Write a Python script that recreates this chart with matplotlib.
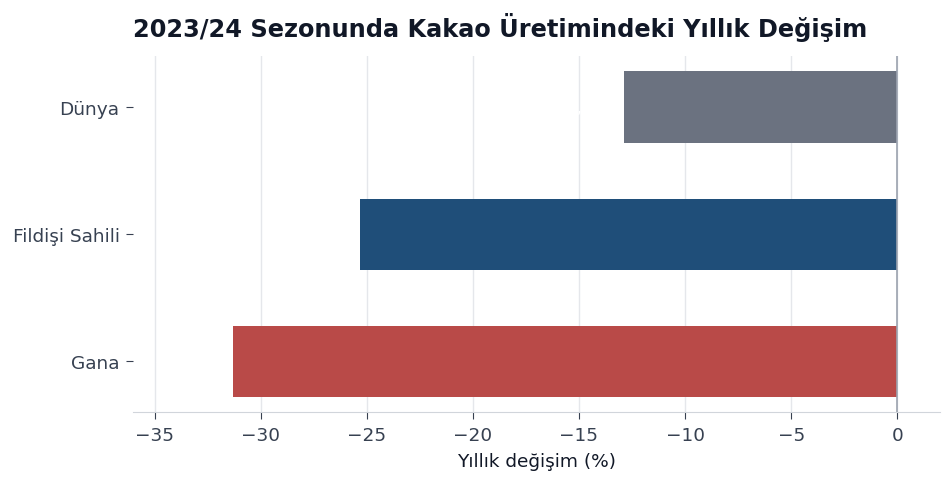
import numpy as np
import matplotlib.pyplot as plt

regions = ['Gana', 'Fildişi Sahili', 'Dünya']
changes = [-31.3, -25.3, -12.9]
colors = ['#b94a48', '#1f4e79', '#6b7280']

fig, ax = plt.subplots(figsize=(9.53, 4.85), dpi=100)
fig.subplots_adjust(left=0.14, right=0.986, top=0.882, bottom=0.148)

ypos = np.arange(len(regions))
bars = ax.barh(ypos, changes, height=0.56, color=colors, zorder=2)

# white value labels (barely visible, as in the original)
for rect, v in zip(bars, changes):
    ax.text(v - 0.8, rect.get_y() + rect.get_height() / 2,
            ('%.1f%%' % v).replace('.', ',').replace('-', '\u2212'),
            ha='right', va='center', color='white', fontsize=11, zorder=3)

ax.axvline(0, color='#9ca3af', lw=1.2, zorder=3)

ax.set_xlim(-36, 2)
ax.set_ylim(-0.4, 2.4)
ax.set_yticks(ypos)
ax.set_yticklabels(regions)
ax.set_xticks(np.arange(-35, 1, 5))

ax.grid(axis='x', color='#e5e7eb', lw=1, zorder=0)
ax.set_axisbelow(True)
for s in ['left', 'top', 'right']:
    ax.spines[s].set_visible(False)
ax.spines['bottom'].set_color('#d1d5db')
ax.tick_params(axis='both', colors='#374151', labelsize=13.3)
ax.tick_params(axis='y', length=5, pad=5, color='#374151')
ax.tick_params(axis='x', length=5, pad=5, color='#374151')

ax.set_xlabel('Yıllık değişim (%)', fontsize=13.3, color='#111827', labelpad=6)
fig.text(0.525, 0.944, '2023/24 Sezonunda Kakao Üretimindeki Yıllık Değişim',
         fontsize=17.3, fontweight='bold', color='#111827',
         ha='center', va='center')

plt.savefig('out.png', dpi=100)
